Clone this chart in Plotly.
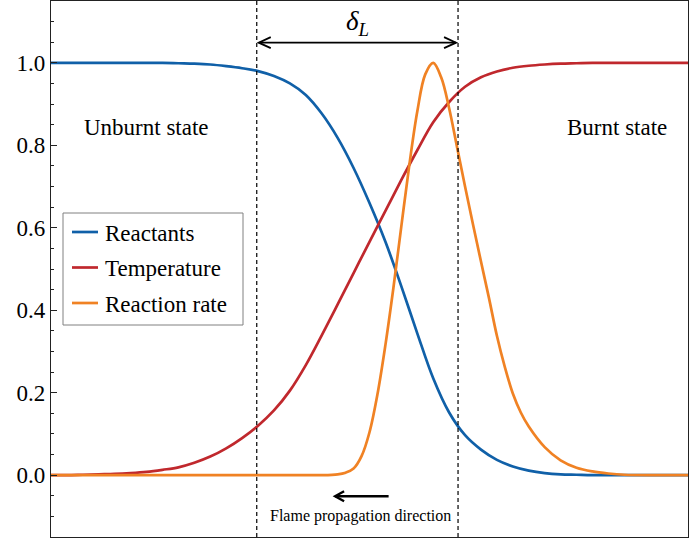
import plotly.graph_objects as go

# ---- data (x in arbitrary position units 0..10) ----
react_x = [0.0, 0.25, 0.5, 0.75, 1.0, 1.25, 1.5, 1.75, 2.0, 2.25, 2.5, 2.75, 3.0, 3.25,
           3.5, 3.75, 4.0, 4.25, 4.5, 4.75, 5.0, 5.25, 5.5, 5.75, 6.0, 6.25, 6.5, 6.75,
           7.0, 7.25, 7.5, 7.75, 8.0, 8.25, 8.5, 9.0, 9.5, 10.0]
react_y = [1.0, 1.0, 1.0, 1.0, 1.0, 1.0, 1.0, 1.0, 0.999, 0.998, 0.996, 0.992, 0.987, 0.98,
           0.968, 0.95, 0.922, 0.877, 0.818, 0.745, 0.66, 0.566, 0.458, 0.344, 0.235, 0.152,
           0.097, 0.062, 0.037, 0.021, 0.011, 0.005, 0.002, 0.001, 0.0, 0.0, 0.0, 0.0]

temp_x = [0.0, 0.25, 0.5, 0.75, 1.0, 1.25, 1.5, 1.75, 2.0, 2.25, 2.5, 2.75, 3.0, 3.25,
          3.5, 3.75, 4.0, 4.25, 4.5, 4.75, 5.0, 5.25, 5.5, 5.75, 6.0, 6.25, 6.5, 6.75,
          7.0, 7.25, 7.5, 7.75, 8.0, 8.25, 8.5, 9.0, 9.5, 10.0]
temp_y = [0.0, 0.0, 0.001, 0.002, 0.003, 0.005, 0.008, 0.013, 0.019, 0.03, 0.045, 0.065,
          0.09, 0.12, 0.157, 0.205, 0.267, 0.339, 0.414, 0.49, 0.566, 0.641, 0.716, 0.788,
          0.856, 0.905, 0.942, 0.965, 0.979, 0.988, 0.993, 0.996, 0.998, 0.999, 1.0, 1.0, 1.0, 1.0]

rate_x = [0.0, 1.0, 2.0, 3.0, 3.5, 4.0, 4.25, 4.5, 4.625, 4.75, 4.875, 5.0, 5.125, 5.25,
          5.375, 5.5, 5.625, 5.75, 5.875, 6.0, 6.125, 6.25, 6.375, 6.5, 6.625, 6.75, 6.875,
          7.0, 7.125, 7.25, 7.375, 7.5, 7.75, 8.0, 8.25, 8.5, 8.75, 9.0, 9.5, 10.0]
rate_y = [0.0, 0.0, 0.0, 0.0, 0.0, 0.0, 0.0, 0.002, 0.006, 0.016, 0.046, 0.104, 0.196, 0.316,
          0.454, 0.604, 0.752, 0.882, 0.972, 1.0, 0.965, 0.89, 0.795, 0.70, 0.608, 0.518,
          0.43, 0.338, 0.262, 0.198, 0.152, 0.118, 0.068, 0.036, 0.018, 0.009, 0.004, 0.001,
          0.0, 0.0]

series_names = ["Reactants", "Temperature", "Reaction rate"]
series_colors = ["#1060a8", "#c0282d", "#f08224"]

flame_bounds = [3.23, 6.39]          # dashed lines delimiting the flame thickness
delta_y = 1.049                      # height of the delta_L arrow
prop_arrow = [4.46, 5.30, -0.051]   # head x, tail x, y of propagation arrow

y_ticks = [0.0, 0.2, 0.4, 0.6, 0.8, 1.0]
y_tick_text = ["0.0", "0.2", "0.4", "0.6", "0.8", "1.0"]

FONT = "Liberation Serif, Times New Roman, serif"
X_RANGE = [0, 10]
Y_RANGE = [-0.15, 1.15]

fig = go.Figure()
for xs, ys, name, col in zip([react_x, temp_x, rate_x], [react_y, temp_y, rate_y],
                             series_names, series_colors):
    fig.add_trace(go.Scatter(x=xs, y=ys, mode="lines", name=name, showlegend=False,
                             line=dict(color=col, width=2.7, shape="spline", smoothing=1.0)))

# dashed vertical lines
for xb in flame_bounds:
    fig.add_shape(type="line", xref="x", yref="paper", x0=xb, x1=xb, y0=0, y1=1,
                  line=dict(color="black", width=1.2, dash="4px,3px"), layer="above")

# helpers for open chevron arrow heads
px_x = (X_RANGE[1] - X_RANGE[0]) / 637.0
px_y = (Y_RANGE[1] - Y_RANGE[0]) / 536.0


def chevron(xtip, y, direction, length_px, half_px, width):
    xb = xtip + direction * length_px * px_x
    path = f"M {xb},{y + half_px * px_y} L {xtip},{y} L {xb},{y - half_px * px_y}"
    fig.add_shape(type="path", path=path, xref="x", yref="y",
                  line=dict(color="black", width=width))


# delta_L double arrow
x0d, x1d = flame_bounds[0] + 2 * px_x, flame_bounds[1] - 2 * px_x
fig.add_shape(type="line", x0=x0d, x1=x1d, y0=delta_y, y1=delta_y,
              line=dict(color="black", width=1.8))
chevron(x0d, delta_y, +1, 12, 5.5, 1.8)
chevron(x1d, delta_y, -1, 12, 5.5, 1.8)

# propagation arrow
fig.add_shape(type="line", x0=prop_arrow[0], x1=prop_arrow[1], y0=prop_arrow[2], y1=prop_arrow[2],
              line=dict(color="black", width=2.4))
chevron(prop_arrow[0], prop_arrow[2], +1, 9, 5, 2.4)

fig.add_annotation(x=sum(flame_bounds) / 2, y=1.097, text="<i>δ<sub>L</sub></i>",
                   showarrow=False, font=dict(family=FONT, size=27, color="black"))
fig.add_annotation(x=1.5, y=0.843, text="Unburnt state", showarrow=False,
                   font=dict(family=FONT, size=23, color="black"))
fig.add_annotation(x=8.89, y=0.843, text="Burnt state", showarrow=False,
                   font=dict(family=FONT, size=23, color="black"))
fig.add_annotation(x=4.86, y=-0.099, text="Flame propagation direction", showarrow=False,
                   font=dict(family=FONT, size=16, color="black"))

# ---- legend box (drawn in paper coordinates, serif text like the reference) ----
def ppx(px):   # horizontal pixel -> paper
    return (px - 51) / 637.0


def ppy(py):   # vertical pixel -> paper
    return (537 - py) / 536.0


fig.add_shape(type="rect", xref="paper", yref="paper", x0=ppx(63), x1=ppx(243),
              y0=ppy(325), y1=ppy(213), line=dict(color="#808080", width=1),
              fillcolor="rgba(255,255,255,0.85)", layer="above")
for i, (name, col) in enumerate(zip(series_names, series_colors)):
    row = 232 + i * 35.5
    fig.add_shape(type="line", xref="paper", yref="paper", x0=ppx(72), x1=ppx(98),
                  y0=ppy(row), y1=ppy(row), line=dict(color=col, width=2.7), layer="above")
    fig.add_annotation(xref="paper", yref="paper", x=ppx(103), y=ppy(row + 1), text=name,
                       xanchor="left", yanchor="middle", showarrow=False,
                       font=dict(family=FONT, size=23, color="black"))

fig.update_layout(
    width=689, height=540,
    margin=dict(l=51, r=1, t=1, b=3, autoexpand=False),
    paper_bgcolor="white", plot_bgcolor="white",
    font=dict(family=FONT, size=23, color="black"),
    showlegend=False,
    xaxis=dict(range=X_RANGE, showticklabels=False, ticks="", showgrid=False, zeroline=False,
               showline=True, linecolor="#222222", linewidth=1.3, mirror=True, automargin=False),
    yaxis=dict(range=Y_RANGE, tickvals=y_ticks, ticktext=y_tick_text, ticks="inside",
               ticklen=6, tickwidth=1, tickcolor="#222222", showgrid=False, zeroline=False,
               showline=True, linecolor="#222222", linewidth=1.3, mirror=True, automargin=False,
               tickfont=dict(family=FONT, size=23),
               minor=dict(dtick=0.05, tick0=0, ticks="inside", ticklen=3, tickcolor="#222222",
                          showgrid=False)),
)

fig.write_html("out.html", config={"displayModeBar": False},
               post_script="document.body.style.margin='0px';document.body.style.overflow='hidden';")
